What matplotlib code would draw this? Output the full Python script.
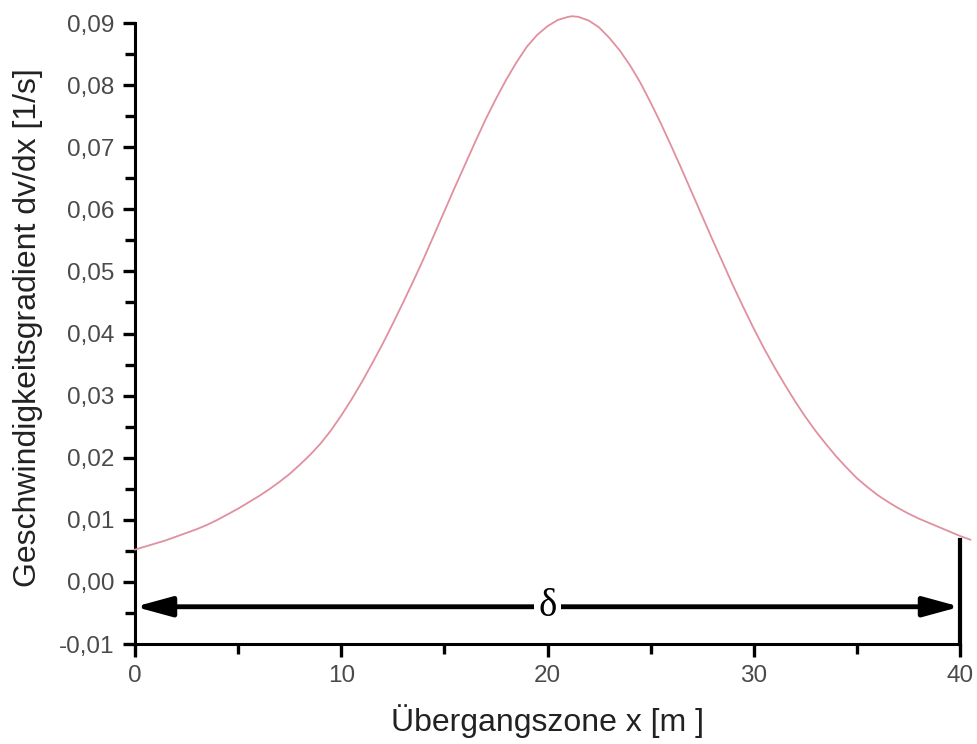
import matplotlib
matplotlib.use("Agg")
import matplotlib.pyplot as plt
from matplotlib.ticker import MultipleLocator, FuncFormatter

plt.rcParams['font.family'] = ['Liberation Sans', 'DejaVu Sans']

# velocity gradient across the transition zone
x_m = [0, 0.5, 1, 1.5, 2, 2.5, 3, 3.5, 4, 4.5, 5, 5.5, 6, 6.5, 7, 7.5, 8, 8.5,
       9, 9.5, 10, 10.5, 11, 11.5, 12, 12.5, 13, 13.5, 14, 14.5, 15, 15.5, 16,
       16.5, 17, 17.5, 18, 18.5, 19, 19.5, 20, 20.5, 21, 21.2, 21.5, 22, 22.5,
       23, 23.5, 24, 24.5, 25, 25.5, 26, 26.5, 27, 27.5, 28, 28.5, 29, 29.5, 30,
       30.5, 31, 31.5, 32, 32.5, 33, 33.5, 34, 34.5, 35, 35.5, 36, 36.5, 37,
       37.5, 38, 38.5, 39, 39.5, 40, 40.5]
dv_dx = [0.0052, 0.0057, 0.0062, 0.0067, 0.0073, 0.0079, 0.0085, 0.0092, 0.0100,
         0.0109, 0.0118, 0.0128, 0.0138, 0.0149, 0.0161, 0.0174, 0.0189, 0.0205,
         0.0223, 0.0244, 0.0268, 0.0294, 0.0322, 0.0352, 0.0383, 0.0416, 0.0450,
         0.0485, 0.0521, 0.0559, 0.0597, 0.0635, 0.0672, 0.0709, 0.0745, 0.0778,
         0.0809, 0.0837, 0.0862, 0.0881, 0.0895, 0.0905, 0.0910, 0.0911, 0.0910,
         0.0904, 0.0893, 0.0876, 0.0856, 0.0832, 0.0804, 0.0772, 0.0738, 0.0702,
         0.0665, 0.0627, 0.0589, 0.0551, 0.0514, 0.0477, 0.0442, 0.0408, 0.0376,
         0.0346, 0.0318, 0.0291, 0.0266, 0.0243, 0.0222, 0.0202, 0.0184, 0.0167,
         0.0153, 0.0140, 0.0129, 0.0119, 0.0110, 0.0102, 0.0095, 0.0088, 0.0081,
         0.0074, 0.0068]

x_ticks = [0, 10, 20, 30, 40]
y_ticks = [-0.01, 0.00, 0.01, 0.02, 0.03, 0.04, 0.05, 0.06, 0.07, 0.08, 0.09]
delta_start, delta_end, delta_y = 0, 40, -0.004
delta_end_value = 0.0068

fig = plt.figure(figsize=(9.77, 7.44), dpi=100)
ax = fig.add_axes([0.1382, 0.1344, 0.8444, 0.8346])

ax.plot(x_m, dv_dx, color='#e0909e', lw=1.3, clip_on=False, zorder=3,
        solid_joinstyle='round')

ax.set_xlim(0, 40)
ax.set_ylim(-0.01, 0.09)
ax.set_xticks(x_ticks)
ax.set_yticks(y_ticks)
ax.xaxis.set_minor_locator(MultipleLocator(5))
ax.yaxis.set_minor_locator(MultipleLocator(0.005))
ax.yaxis.set_major_formatter(FuncFormatter(
    lambda v, p: f"{v:.2f}".replace('.', ',').replace('-0,00', '0,00')))
ax.xaxis.set_major_formatter(FuncFormatter(lambda v, p: f"{v:g}"))

for side in ('top', 'right'):
    ax.spines[side].set_visible(False)
for side in ('left', 'bottom'):
    ax.spines[side].set_linewidth(2.2)
    ax.spines[side].set_color('black')

ax.tick_params(which='major', direction='out', length=9, width=2.4, color='black',
               labelsize=17.5, labelcolor='#4a4a4a', pad=6)
ax.tick_params(which='minor', direction='out', length=7, width=2.4, color='black')

ax.set_xlabel('Übergangszone x [m ]', fontsize=23, color='#222222')
ax.set_ylabel('Geschwindigkeitsgradient dv/dx [1/s]', fontsize=23, color='#222222')
ax.xaxis.set_label_coords(0.50, -0.097)
ax.yaxis.set_label_coords(-0.112, 0.51)

# transition width arrow
ax.annotate('', xy=(delta_start, delta_y), xytext=(delta_end, delta_y),
            arrowprops=dict(arrowstyle='<|-|>,head_length=2.2,head_width=0.6',
                            color='black', lw=3.5, shrinkA=0, shrinkB=0),
            zorder=4)
ax.text((delta_start + delta_end) / 2, delta_y, 'δ', fontsize=28,
        family=['Liberation Serif', 'DejaVu Serif'], ha='center', va='center',
        bbox=dict(facecolor='white', edgecolor='none', pad=3), zorder=5)
ax.plot([delta_end, delta_end], [-0.01, delta_end_value], color='black', lw=3,
        clip_on=False, zorder=4)

fig.savefig('out.png', dpi=100)
